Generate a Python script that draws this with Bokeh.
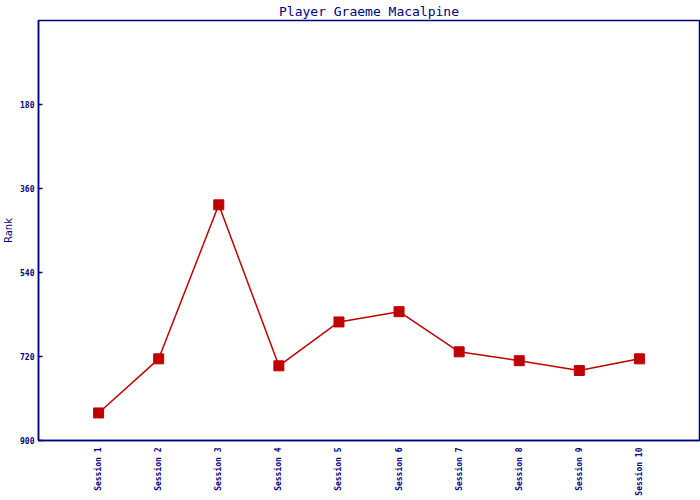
import math
from bokeh.plotting import figure
from bokeh.models import FactorRange, Range1d, FixedTicker, ColumnDataSource
from bokeh.embed import file_html
from bokeh.resources import INLINE

sessions = ["Session 1", "Session 2", "Session 3", "Session 4", "Session 5",
            "Session 6", "Session 7", "Session 8", "Session 9", "Session 10"]
ranks = [841, 725, 395, 740, 646, 624, 710, 729, 750, 725]
y_ticks = [180, 360, 540, 720, 900]
title_text = "Player Graeme Macalpine"

NAVY = "#000080"
RED = "#C00000"

W, H = 700, 500

src = ColumnDataSource(data=dict(x=sessions, y=ranks))

p = figure(width=W, height=H, output_backend="svg", toolbar_location=None,
           x_range=FactorRange(factors=sessions, range_padding=0.1, range_padding_units="percent"),
           y_range=Range1d(900, 0),
           title=title_text,
           min_border_left=37, min_border_right=1, min_border_top=20, min_border_bottom=60)

p.title.align = "center"
p.title.text_font = "DejaVu Sans Mono"
p.title.text_font_size = "13px"
p.title.text_font_style = "normal"
p.title.text_color = NAVY
p.title.standoff = 3
p.title.offset = 0

p.line("x", "y", source=src, line_color=RED, line_width=1.5)
p.scatter("x", "y", source=src, marker="square", size=10, fill_color=RED, line_color=RED)

p.grid.visible = False
p.outline_line_color = NAVY
p.outline_line_width = 1.5
p.outline_line_alpha = 1

ya = p.yaxis[0]
ya.ticker = FixedTicker(ticks=y_ticks)
ya.axis_label = "Rank"
ya.axis_label_text_font = "DejaVu Sans"
ya.axis_label_text_font_size = "10px"
ya.axis_label_text_font_style = "normal"
ya.axis_label_text_color = NAVY
ya.axis_label_standoff = 3
ya.axis_line_color = NAVY
ya.axis_line_width = 1.5
ya.major_tick_in = 4
ya.major_tick_out = 0
ya.major_tick_line_color = NAVY
ya.major_tick_line_width = 1.5
ya.minor_tick_line_color = None
ya.major_label_text_font = "DejaVu Sans Mono"
ya.major_label_text_font_size = "8px"
ya.major_label_text_font_style = "bold"
ya.major_label_text_color = NAVY
ya.major_label_standoff = 4

xa = p.xaxis[0]
xa.axis_line_color = NAVY
xa.axis_line_width = 1.5
xa.major_tick_line_color = None
xa.major_tick_in = 0
xa.major_tick_out = 0
xa.minor_tick_line_color = None
xa.major_label_orientation = math.pi / 2
xa.major_label_text_font = "DejaVu Sans Mono"
xa.major_label_text_font_size = "8px"
xa.major_label_text_font_style = "bold"
xa.major_label_text_color = NAVY
xa.major_label_standoff = 7

open("out.html", "w").write(file_html(p, INLINE))
